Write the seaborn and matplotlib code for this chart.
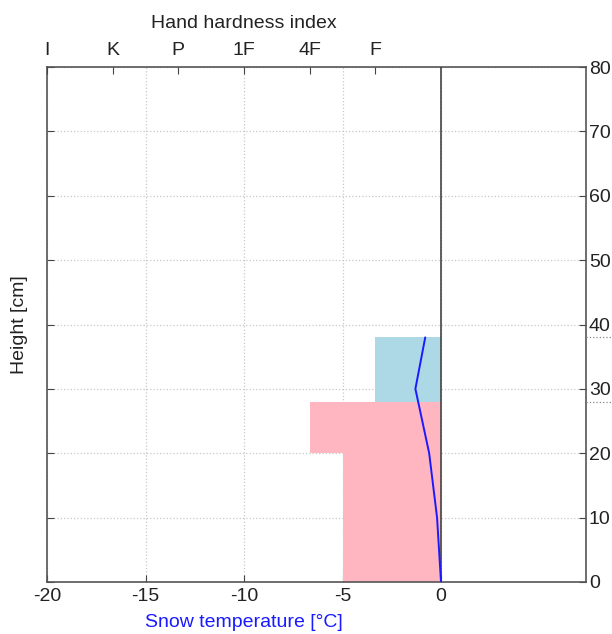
import matplotlib
matplotlib.use("Agg")
import matplotlib.pyplot as plt
import seaborn as sns
import numpy as np
import pandas as pd

# ---- data ----
layer_bottom = [0, 20, 28]
layer_top = [20, 28, 38]
layer_hardness = [1.5, 2, 1]          # hand hardness index (F=1, 4F=2, ...)
layer_colors = ["#FFB6C1", "#FFB6C1", "#ADD8E6"]

temp_height = [0, 10, 20, 30, 38]
temp_value = [0.0, -0.2, -0.6, -1.3, -0.8]

hardness_labels = ["I", "K", "P", "1F", "4F", "F"]
hardness_index = [6, 5, 4, 3, 2, 1]

x_ticks = [-20, -15, -10, -5, 0]
y_ticks = [0, 10, 20, 30, 40, 50, 60, 70, 80]

scale = 20 / 6  # hardness index -> temperature axis units

sns.set_style("white")
plt.rcParams["font.family"] = ["Liberation Sans", "DejaVu Sans"]
plt.rcParams["axes.unicode_minus"] = False

fig = plt.figure(figsize=(6.12, 6.34), dpi=100)
ax = fig.add_axes([47 / 612, 1 - 582 / 634, (586 - 47) / 612, (582 - 67) / 634])

xmax = (586 - 441) / 19.7
ax.set_xlim(-20, xmax)
ax.set_ylim(0, 80)

# layers
for b, t, h, c in zip(layer_bottom, layer_top, layer_hardness, layer_colors):
    ax.barh(y=b, width=-h * scale, height=t - b, left=0, align="edge",
            color=c, edgecolor="none", zorder=2)

# layer boundary markers outside right spine
for t in layer_top[1:]:
    ax.plot([xmax, xmax + 1.6], [t, t], ls=":", color="#888888", lw=0.9,
            clip_on=False, zorder=3)

# zero line
ax.axvline(0, color="#444444", lw=1.2, zorder=3)

# temperature profile
df = pd.DataFrame({"h": temp_height, "t": temp_value})
sns.lineplot(data=df, x="t", y="h", sort=False, estimator=None, color="#1a1aff",
             lw=1.4, ax=ax, zorder=4)

ax.set_xticks(x_ticks)
ax.set_yticks(y_ticks)
ax.grid(True, ls=":", color="#c8c8c8", lw=0.9, zorder=0)
ax.set_axisbelow(True)

ax.tick_params(axis="both", direction="in", length=5, color="#444444",
               labelsize=14, labelcolor="#222222")
ax.tick_params(axis="x", pad=4)
ax.tick_params(axis="y", left=True, right=True, labelleft=False,
               labelright=True, pad=2)
for s in ax.spines.values():
    s.set_color("#555555")
    s.set_linewidth(1.2)

ax.set_xlabel("Snow temperature [°C]", fontsize=14, color="#1a1aff")
ax.xaxis.set_label_coords((244 - 47) / (586 - 47), -(614 - 582) / 515)
ax.set_ylabel("Height [cm]", fontsize=14, color="#222222", labelpad=14)

# top hardness axis
ax2 = ax.twiny()
ax2.set_xlim(ax.get_xlim())
ax2.set_xticks([-i * scale for i in hardness_index])
ax2.set_xticklabels(hardness_labels)
ax2.tick_params(axis="x", direction="in", length=5, color="#444444",
                labelsize=14, labelcolor="#222222", pad=6)
ax2.set_xlabel("Hand hardness index", fontsize=14, color="#222222")
ax2.xaxis.set_label_coords((244 - 47) / (586 - 47), 1.075)
for s in ax2.spines.values():
    s.set_visible(False)

fig.savefig("out.png", dpi=100)
